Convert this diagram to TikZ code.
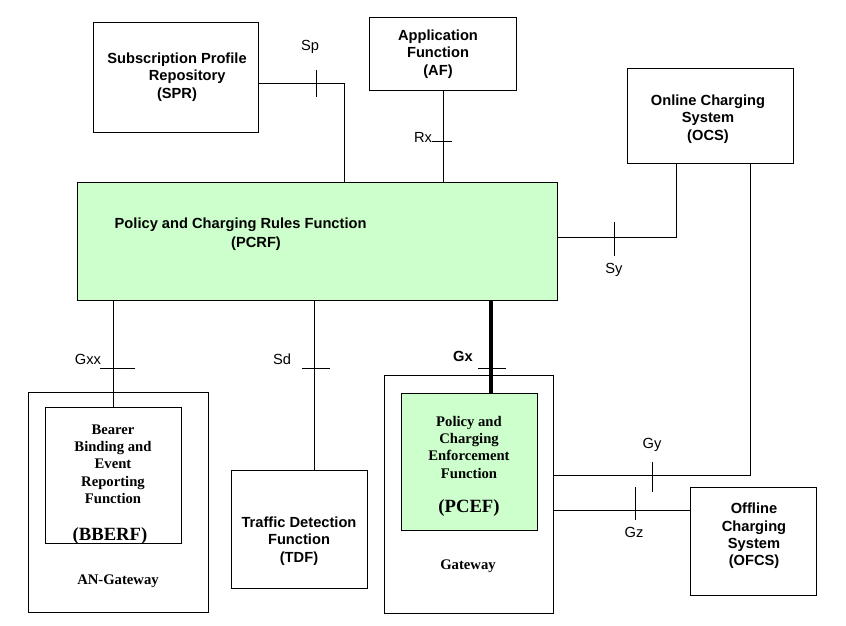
\documentclass[tikz,border=0pt]{standalone}
\usepackage{fontspec}
\setmainfont{Liberation Serif}
\newfontfamily\arialf{Liberation Sans}
\begin{document}
\begin{tikzpicture}[x=0.75pt,y=-0.75pt,
  box/.style={draw, thin},
  sans/.style={font=\arialf\bfseries\fontsize{11}{13}\selectfont, align=center},
  serif/.style={font=\bfseries\fontsize{11}{13}\selectfont, align=center},
  lbl/.style={font=\arialf\fontsize{11}{13}\selectfont},
  tick/.style={thin}]
\useasboundingbox (0,0) rectangle (846,625);
% boxes
\draw[box] (93,22) rectangle (258,132);
\node[sans] (spr) at (177,77) {Subscription Profile\\ \ \ \ \ \ Repository\\ (SPR)};
\draw[box] (369,17) rectangle (516,90);
\node[sans] (af) at (438,54) {Application\\Function\\(AF)};
\draw[box] (627,68) rectangle (793,163);
\node[sans] (ocs) at (708,119) {Online Charging\\System\\(OCS)};
\draw[box, fill={rgb,255:red,204;green,255;blue,204}] (77,182) rectangle (557,300);
\node[sans, anchor=west] (pcrf) at (110,225) {Policy and Charging Rules Function};
\node[sans] at (256,244) {(PCRF)};
\draw[box] (28,392) rectangle (208,612);
\draw[box] (45,407) rectangle (181,543);
\node[serif] (bberf) at (113,464) {Bearer\\Binding and\\Event\\Reporting\\Function};
\node[serif, font=\bfseries\fontsize{14}{16}\selectfont] at (110,536) {(BBERF)};
\node[serif] (ang) at (118,581) {AN-Gateway};
\draw[box] (231,470) rectangle (367,588);
\node[sans] (tdf) at (299,541) {Traffic Detection\\Function\\(TDF)};
\draw[box] (384,375) rectangle (553,613);
\draw[box, fill={rgb,255:red,204;green,255;blue,204}] (401,393) rectangle (537,530);
\node[serif] (pcef) at (469,447) {Policy and\\Charging\\Enforcement\\Function};
\node[serif, font=\bfseries\fontsize{14}{16}\selectfont] at (469,508) {(PCEF)};
\node[serif] (gw) at (468,566) {Gateway};
\draw[box] (690,487) rectangle (816,595);
\node[sans] (ofcs) at (754,536) {Offline\\Charging\\System\\(OFCS)};
% connectors
\draw (258,83) -- (344,83) -- (344,182);
\draw[tick] (316,70) -- (316,97);
\node[lbl] at (310,47) {Sp};
\draw (443,90) -- (443,182);
\draw[tick] (432,141) -- (452,141);
\node[lbl] at (423,137) {Rx};
\draw (557,237) -- (676,237) -- (676,163);
\draw[tick] (614,222) -- (614,256);
\node[lbl] at (614,270) {Sy};
\draw (113,300) -- (113,407);
\draw[tick] (100,368) -- (135,368);
\node[lbl] at (88,359) {Gxx};
\draw (314,300) -- (314,470);
\draw[tick] (302,368) -- (330,368);
\node[lbl] at (282,359) {Sd};
\draw[line width=2.5pt] (491,300) -- (491,393);
\draw[tick] (478,368) -- (506,368);
\node[lbl, font=\arialf\bfseries\fontsize{11}{13}\selectfont] at (463,356) {Gx};
\draw (750,163) -- (750,475) -- (553,475);
\draw[tick] (652,462) -- (652,492);
\node[lbl] at (652,445) {Gy};
\draw (553,510) -- (690,510);
\draw[tick] (635,487) -- (635,520);
\node[lbl] at (634,532) {Gz};
\end{tikzpicture}
\end{document}
